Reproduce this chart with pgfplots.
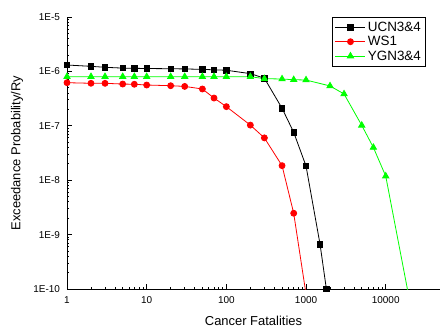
\documentclass[border=0pt]{standalone}
\usepackage{fontspec}
\setmainfont{Liberation Sans}
\usepackage{pgfplots}
\pgfplotsset{compat=1.18}
\begin{document}
\begin{tikzpicture}
\begin{axis}[
  scale only axis,
  width=373bp, height=272bp,
  xmode=log, ymode=log,
  xmin=1, xmax=48000,
  ymin=1e-10, ymax=1e-5,
  axis x line=bottom, axis y line=left,
  axis line style={-, line width=0.9bp},
  tick align=inside,
  major tick length=5bp, minor tick length=2.5bp,
  every tick/.style={black, line width=0.8bp},
  xtick={1,10,100,1000,10000},
  xticklabels={1,10,100,1000,10000},
  ytick={1e-10,1e-9,1e-8,1e-7,1e-6,1e-5},
  yticklabels={1E-10,1E-9,1E-8,1E-7,1E-6,1E-5},
  tick label style={font=\fontsize{10}{12}\selectfont},
  x tick label style={yshift=-4bp},
  y tick label style={xshift=-3.5bp},
  xlabel={Cancer Fatalities},
  ylabel={Exceedance Probability/Ry},
  every axis x label/.style={at={(axis description cs:0.5,0)}, anchor=base, yshift=-36bp, font=\fontsize{13}{15}\selectfont},
  every axis y label/.style={at={(axis description cs:0,0.5)}, xshift=-50bp, rotate=90, anchor=center, font=\fontsize{13}{15}\selectfont},
  legend style={at={(axis description cs:0.962,1.0)}, anchor=north east, draw=black, line width=0.8bp,
    font=\fontsize{13.5}{16}\selectfont, inner xsep=2.5bp, inner ysep=2.5bp, row sep=-0.5bp},
  legend cell align=left,
  legend image code/.code={\draw[mark repeat=2,mark phase=2] plot coordinates {(0bp,0bp) (15bp,0bp) (30bp,0bp)};},
  every axis plot/.append style={line width=0.8bp},
]
\addplot[black, mark=square*, mark size=2.7bp, mark options={solid}] coordinates {
 (1,1.31e-6) (2,1.24e-6) (3,1.19e-6) (5,1.15e-6) (7,1.14e-6) (10,1.13e-6)
 (20,1.12e-6) (30,1.11e-6) (50,1.09e-6) (70,1.07e-6) (100,1.05e-6)
 (200,9.1e-7) (300,7.5e-7) (500,2.1e-7) (700,7.6e-8) (1000,1.82e-8)
 (1500,6.6e-10) (1800,1e-10)
};
\addlegendentry{UCN3\&4}
\addplot[red, mark=*, mark size=3bp] coordinates {
 (1,6.2e-7) (2,6.05e-7) (3,6.04e-7) (5,5.86e-7) (7,5.8e-7) (10,5.62e-7)
 (20,5.46e-7) (30,5.3e-7) (50,4.75e-7) (70,3.24e-7) (100,2.25e-7)
 (200,1.03e-7) (300,6.0e-8) (500,1.85e-8) (700,2.47e-9) (1000,8e-11)
};
\addlegendentry{WS1}
\addplot[green, mark=triangle*, mark size=3.6bp] coordinates {
 (1,8.0e-7) (2,8.0e-7) (3,8.0e-7) (5,8.0e-7) (7,8.0e-7) (10,8.0e-7)
 (20,8.0e-7) (30,8.0e-7) (50,8.0e-7) (70,8.0e-7) (100,8.0e-7)
 (200,8.0e-7) (300,7.35e-7) (500,7.25e-7) (700,7.03e-7) (1000,6.95e-7)
 (2000,5.4e-7) (3000,3.85e-7) (5000,1.02e-7) (7000,4.0e-8) (10000,1.19e-8)
 (20000,6e-11)
};
\addlegendentry{YGN3\&4}
\end{axis}
\pgfresetboundingbox
\path (-67bp,-40bp) rectangle (373bp,289bp);
\end{tikzpicture}
\end{document}
